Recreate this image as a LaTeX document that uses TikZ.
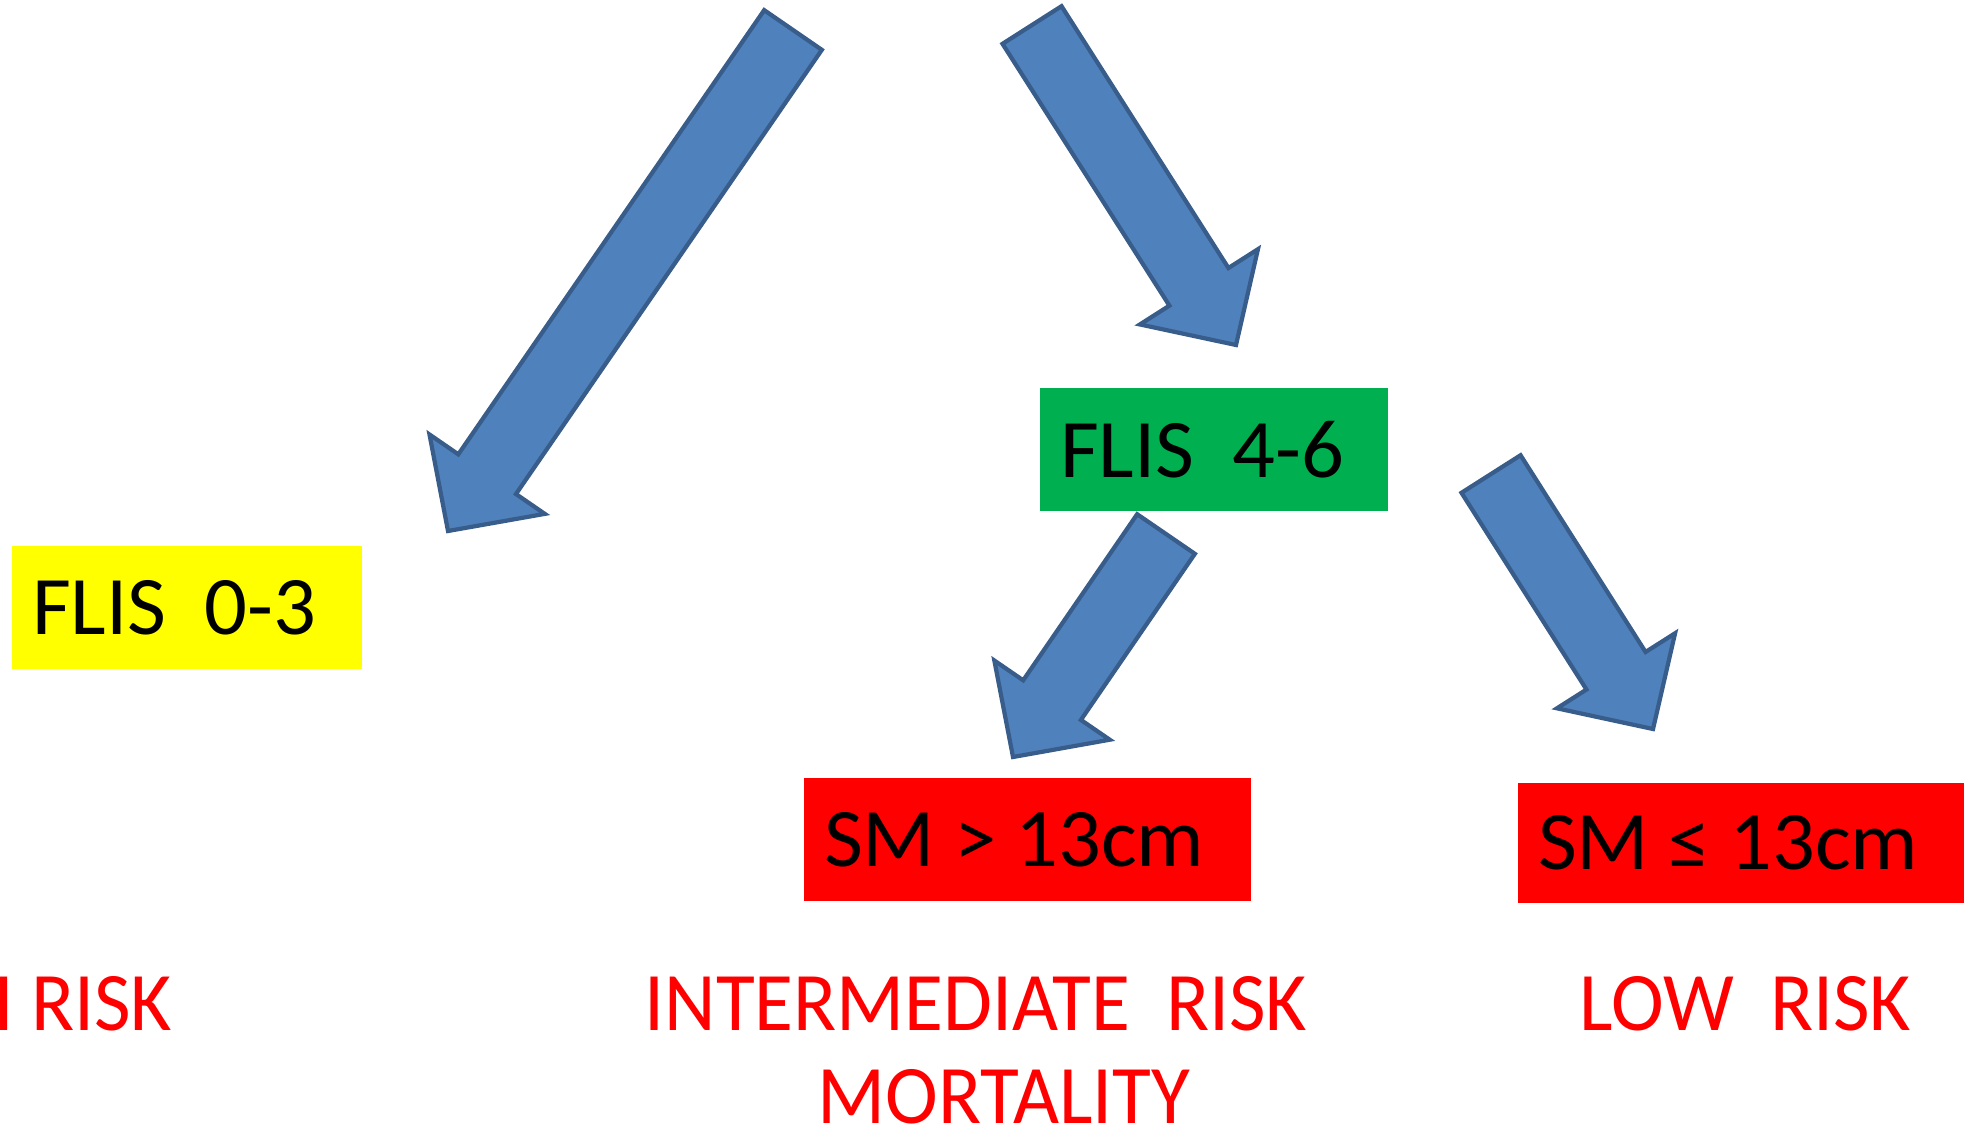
\documentclass[tikz,border=0pt]{standalone}
\usepackage{fontspec}
\setmainfont{Carlito}[FakeStretch=0.955]
\newfontfamily\boxfont{Carlito}[FakeStretch=1.015]
\usetikzlibrary{calc}
\definecolor{arrowblue}{HTML}{4F81BD}
\definecolor{arrowline}{HTML}{385D8A}
\definecolor{flisgreen}{HTML}{00B050}
\definecolor{flisyellow}{HTML}{FFFF00}
\definecolor{smred}{HTML}{FF0000}
\tikzset{
  box/.style={rectangle, minimum height=1.23cm, inner xsep=0.2cm, align=flush left, text=black, font=\boxfont\fontsize{23.7}{28}\selectfont},
  risk/.style={text=smred, inner sep=0pt, font=\fontsize{23.7}{28}\selectfont},
  barrow/.style={fill=arrowblue, draw=arrowline, line width=1.2pt, line join=miter}
}
% block arrow, tail #1, tip #2
\newcommand{\blockarrow}[2]{%
  \draw[barrow] let \p1=($(#2)-(#1)$), \n1={atan2(\y1,\x1)} in
    ($(#1)+({\n1+90}:0.35)$) -- ($(#2)+({\n1+180}:0.69)+({\n1+90}:0.35)$)
    -- ($(#2)+({\n1+180}:0.69)+({\n1+90}:0.70)$) -- (#2)
    -- ($(#2)+({\n1+180}:0.69)+({\n1-90}:0.70)$) -- ($(#2)+({\n1+180}:0.69)+({\n1-90}:0.35)$)
    -- ($(#1)+({\n1-90}:0.35)$) -- cycle;}

\begin{document}
\begin{tikzpicture}
	\clip (0,0) rectangle (19.64,-11.29);
	% score boxes
	\node[box, fill=flisyellow, text width=3.10cm] (flislow) at (1.87,-6.075) {FLIS~~0-3};
	\node[box, fill=flisgreen, text width=3.08cm] (flismid) at (12.14,-4.495) {FLIS~~4-6};
	\node[box, fill=smred, text width=4.07cm] (smhigh) at (10.275,-8.395) {SM > 13cm};
	\node[box, fill=smred, text width=4.06cm, minimum height=1.20cm] (smlow) at (17.41,-8.43) {SM ≤ 13cm};
	% risk labels
	\node[risk, anchor=base east] (highrisk) at (1.73,-10.30) {HIGH RISK};
	\node[risk, anchor=base] (intrisk) at (9.76,-10.30) {INTERMEDIATE~~RISK};
	\node[risk, anchor=base] (mortality) at (10.04,-11.236) {MORTALITY};
	\node[risk, anchor=base] (lowrisk) at (17.455,-10.30) {LOW~~RISK};
	% arrow ends
	\coordinate (a1s) at (7.93,-0.30);
	\coordinate (a1e) at (4.48,-5.31);
	\coordinate (a2s) at (10.32,-0.25);
	\coordinate (a2e) at (12.36,-3.45);
	\coordinate (a3s) at (11.66,-5.34);
	\coordinate (a3e) at (10.13,-7.57);
	\coordinate (a4s) at (14.91,-4.74);
	\coordinate (a4e) at (16.53,-7.29);
	\blockarrow{a1s}{a1e}
	\blockarrow{a2s}{a2e}
	\blockarrow{a3s}{a3e}
	\blockarrow{a4s}{a4e}
\end{tikzpicture}
\end{document}
